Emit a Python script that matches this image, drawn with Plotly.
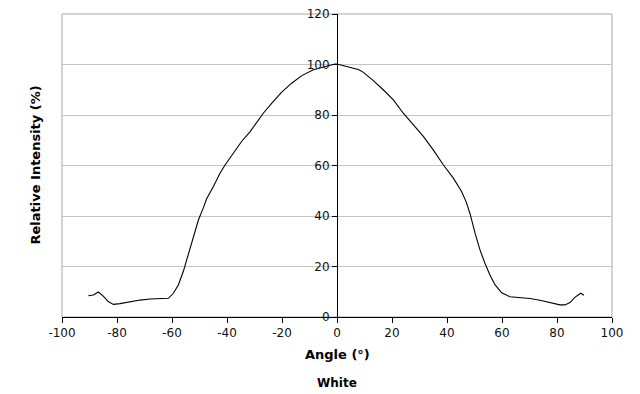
import plotly.graph_objects as go

angle = [-90.4, -88.6, -86.8, -85.0, -83.2, -81.3, -78.9, -75.3, -71.6, -68.0, -64.4, -61.3,
         -59.5, -57.7, -55.9, -54.1, -52.3, -50.4, -48.6, -47.4, -45.0, -42.5, -40.7, -37.7,
         -34.7, -31.6, -28.6, -26.8, -23.7, -20.1, -16.5, -12.8, -8.6, -4.4, -0.7, 0.0,
         2.3, 6.0, 8.0, 9.6, 11.4, 13.2, 16.8, 20.5, 24.1, 27.7, 31.4, 35.0, 38.7, 42.3, 45.3, 47.0,
         48.4, 50.2, 52.0, 53.8, 55.6, 57.5, 59.9, 62.9, 66.5, 70.2, 73.8, 77.5, 81.1, 82.9,
         84.7, 86.5, 88.6, 89.8]
intensity = [8.4, 8.7, 9.9, 8.3, 6.1, 5.0, 5.3, 6.1, 6.7, 7.1, 7.1, 7.4,
             9.4, 12.7, 18.0, 24.6, 31.8, 38.4, 43.2, 46.8, 51.6, 57.0, 60.2, 64.9,
             69.5, 73.4, 78.1, 80.7, 84.7, 89.1, 92.6, 95.6, 97.9, 99.2, 100.2, 100.2,
             99.6, 98.7, 97.9, 96.9, 95.4, 93.6, 90.0, 86.0, 80.7, 76.1, 71.5, 66.2, 60.2, 55.0, 49.7, 45.5,
             40.8, 33.2, 26.6, 21.3, 16.6, 12.7, 9.6, 8.0, 7.7, 7.3, 6.6, 5.7, 4.8, 4.8,
             5.7, 7.8, 9.4, 8.6]

x_ticks = [-100, -80, -60, -40, -20, 0, 20, 40, 60, 80, 100]
x_tick_labels = ["-100", "-80", "-60", "-40", "-20", "0", "20", "40", "60", "80", "100"]
y_ticks = [0, 20, 40, 60, 80, 100, 120]
y_tick_labels = ["0", "20", "40", "60", "80", "100", "120"]

FONT = "DejaVu Sans"

fig = go.Figure()
fig.add_trace(go.Scatter(x=angle, y=intensity, mode="lines",
                         line=dict(color="black", width=1.1), showlegend=False))

fig.update_layout(
    width=640, height=394,
    margin=dict(l=62, r=28, t=14, b=77, autoexpand=False),
    paper_bgcolor="white", plot_bgcolor="white",
    font=dict(family=FONT, size=12, color="black"),
    xaxis=dict(range=[-100, 100], tickvals=x_ticks, ticktext=x_tick_labels,
               showgrid=False, zeroline=False, automargin=False,
               showline=True, linecolor="black", linewidth=1,
               ticks="outside", ticklen=5, tickcolor="black",
               tickfont=dict(family=FONT, size=12, color="#111111")),
    yaxis=dict(range=[0, 120], tickvals=y_ticks, ticktext=y_tick_labels,
               showgrid=True, gridcolor="#c4c4c4", automargin=False,
               gridwidth=1, zeroline=False, anchor="free", position=0.5,
               showline=True, linecolor="black", linewidth=1,
               ticks="outside", ticklen=5, tickcolor="black",
               tickfont=dict(family=FONT, size=12, color="#111111")),
    shapes=[dict(type="rect", xref="paper", yref="paper", x0=0, x1=1, y0=0, y1=1,
                 line=dict(color="#a8a8a8", width=1), layer="below")],
    annotations=[
        dict(text="<b>Relative Intensity (%)</b>", xref="paper", yref="paper",
             x=0.0, xanchor="center", xshift=-27, y=0.5, yanchor="middle",
             textangle=-90, showarrow=False, font=dict(family=FONT, size=13)),
        dict(text="<b>Angle (°)</b>", xref="paper", yref="paper",
             x=0.5, y=-0.125, xanchor="center", yanchor="middle",
             showarrow=False, font=dict(family=FONT, size=13)),
        dict(text="<b>White</b>", xref="paper", yref="paper",
             x=0.5, y=-0.218, xanchor="center", yanchor="middle",
             showarrow=False, font=dict(family=FONT, size=12)),
    ],
)

fig.write_html("out.html", config={"displayModeBar": False},
               post_script="document.body.style.margin='0';document.body.style.overflow='hidden';")
